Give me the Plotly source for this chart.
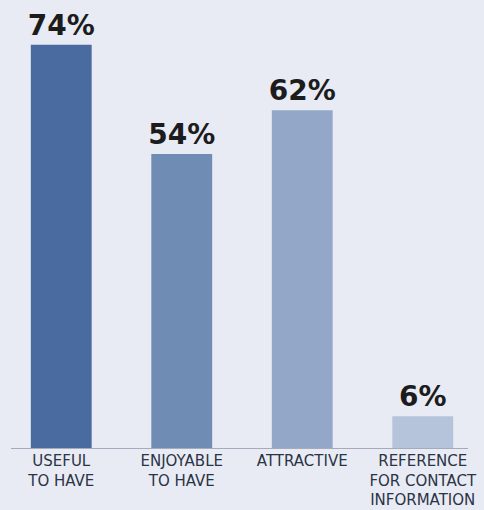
import plotly.graph_objects as go

categories = ["USEFUL<br>TO HAVE", "ENJOYABLE<br>TO HAVE", "ATTRACTIVE",
              "REFERENCE<br>FOR CONTACT<br>INFORMATION"]
values = [74, 54, 62, 6]
bar_colors = ["#4a6b9f", "#6f8cb5", "#93a8c8", "#b5c4db"]

bg = "#e8ebf4"

fig = go.Figure(
    go.Bar(
        x=categories,
        y=values,
        marker=dict(color=bar_colors, line=dict(width=0)),
        text=[f"{v}%" for v in values],
        textposition="outside",
        constraintext="none",
        textfont=dict(family="DejaVu Sans", size=28, color="#1c1c1c", weight="bold"),
        cliponaxis=False,
        width=0.505,
    )
)

fig.update_layout(
    width=484,
    height=510,
    margin=dict(l=1, r=1, t=0, b=61, autoexpand=False),
    paper_bgcolor=bg,
    plot_bgcolor=bg,
    showlegend=False,
    xaxis=dict(
        range=[-0.5, 3.5],
        automargin=False,
        showgrid=False,
        zeroline=False,
        showline=False,
        ticks="",
        ticklabelstandoff=1,
        tickfont=dict(family="DejaVu Sans", size=15, color="#2b3445"),
    ),
    yaxis=dict(
        range=[0, 82.2],
        automargin=False,
        visible=False,
        showgrid=False,
        zeroline=False,
    ),
    shapes=[
        dict(
            type="line",
            xref="paper",
            yref="y",
            x0=0.0207,
            x1=0.969,
            y0=0,
            y1=0,
            line=dict(color="#a3abbd", width=2),
        )
    ],
)

fig.write_html("out.html")
